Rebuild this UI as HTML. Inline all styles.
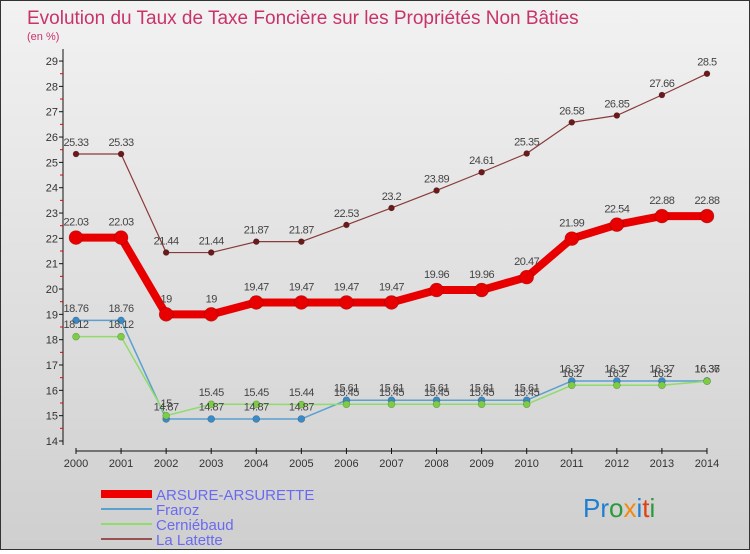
<!DOCTYPE html>
<html><head><meta charset="utf-8"><style>
body{margin:0;width:750px;height:550px;overflow:hidden;font-family:"Liberation Sans",sans-serif}
#wrap{position:relative;width:748px;height:548px;border:1px solid #333;background:linear-gradient(#f2f2f2,#cfcfcf)}
</style></head><body>
<div id="wrap">
<svg id="chart" width="748" height="548" xmlns="http://www.w3.org/2000/svg">
<text x="26" y="23" font-size="19" fill="#c8336a">Evolution du Taux de Taxe Foncière sur les Propriétés Non Bâties</text>
<text x="26" y="39" font-size="11" fill="#c8336a">(en %)</text>
<g id="axes"></g><g id="series"></g><g id="labels"></g>
<g>
<line x1="100" y1="493" x2="151" y2="493" stroke="#e00" stroke-width="8"/>
<text x="155" y="499" font-size="15" fill="#6a6af0">ARSURE-ARSURETTE</text>
<line x1="100" y1="508" x2="151" y2="508" stroke="#5aa0d0" stroke-width="2"/>
<text x="155" y="514" font-size="15" fill="#6a6af0">Fraroz</text>
<line x1="100" y1="523" x2="151" y2="523" stroke="#8fdc6a" stroke-width="2"/>
<text x="155" y="529" font-size="15" fill="#6a6af0">Cerniébaud</text>
<line x1="100" y1="538" x2="151" y2="538" stroke="#9a5050" stroke-width="2"/>
<text x="155" y="544" font-size="15" fill="#6a6af0">La Latette</text>
</g>
<g font-size="26" font-family="Liberation Sans,sans-serif">
<text x="582" y="516"><tspan fill="#1e7fd0">Pr</tspan><tspan fill="#2a9a3a">o</tspan><tspan fill="#f08a10">x</tspan><tspan fill="#1e7fd0">i</tspan><tspan fill="#e04010">t</tspan><tspan fill="#2a9a3a">i</tspan></text>
</g>
</svg></div>
<script>
const years=[2000,2001,2002,2003,2004,2005,2006,2007,2008,2009,2010,2011,2012,2013,2014];
const arsure=[22.03,22.03,19,19,19.47,19.47,19.47,19.47,19.96,19.96,20.47,21.99,22.54,22.88,22.88];
const fraroz=[18.76,18.76,14.87,14.87,14.87,14.87,15.61,15.61,15.61,15.61,15.61,16.37,16.37,16.37,16.37];
const cerniebaud=[18.12,18.12,15,15.45,15.45,15.44,15.45,15.45,15.45,15.45,15.45,16.2,16.2,16.2,16.36];
const latette=[25.33,25.33,21.44,21.44,21.87,21.87,22.53,23.2,23.89,24.61,25.35,26.58,26.85,27.66,28.5];
const yTicks=[14,15,16,17,18,19,20,21,22,23,24,25,26,27,28,29];
const NS="http://www.w3.org/2000/svg";
const xS=i=>75+i*45.07;
const yS=v=>440-(v-14)*25.33;
function mk(t,a,p){const e=document.createElementNS(NS,t);for(const k in a)e.setAttribute(k,a[k]);p.appendChild(e);return e;}
const ax=document.getElementById('axes'),sg=document.getElementById('series'),lg=document.getElementById('labels');
let l=mk('line',{x1:62,y1:48,x2:62,y2:444,stroke:'#111','stroke-width':1},ax);


l=mk('line',{x1:75,y1:450,x2:xS(14),y2:450,stroke:'#111','stroke-width':1},ax);


yTicks.forEach(v=>{
 mk('line',{x1:58,y1:yS(v),x2:62,y2:yS(v),stroke:'#111'},ax);
 if(v<29)mk('line',{x1:59,y1:yS(v+0.5),x2:62,y2:yS(v+0.5),stroke:'#e00'},ax);
 const t=mk('text',{x:57,y:yS(v)+4,'font-size':11,fill:'#333','text-anchor':'end'},ax);t.textContent=v;
 
 
});
years.forEach((y,i)=>{
 mk('line',{x1:xS(i),y1:447,x2:xS(i),y2:453,stroke:'#111'},ax);
 const t=mk('text',{x:xS(i),y:466,'font-size':11,fill:'#333','text-anchor':'middle'},ax);t.textContent=y;
 
 
});
function series(vals,color,w,r,name,ptColor){
 const p=mk('polyline',{points:vals.map((v,i)=>xS(i)+','+yS(v)).join(' '),fill:'none',stroke:color,'stroke-width':w,'stroke-linejoin':'round'},sg);
 
 
 vals.forEach((v,i)=>{
  const c=mk('circle',{cx:xS(i),cy:yS(v),r:r,fill:ptColor,stroke:'rgba(0,0,0,0.25)','stroke-width':0.6},sg);
  
  
  const t=mk('text',{x:xS(i),y:yS(v)-(r+5),'font-size':11,fill:'#444','text-anchor':'middle','letter-spacing':'-0.5'},lg);
  t.textContent=v;
  
  
 });
}
series(latette,'#8a3a3a',1.2,3,'la-latette','#6a1a1a');
series(fraroz,'#5aa0d0',1.5,3.5,'fraroz','#3a8ac8');
series(cerniebaud,'#8fdc6a',1.5,3.5,'cerniebaud','#7ccc44');
series(arsure,'#e80000',8,7,'arsure-arsurette','#e80000');
</script>
</body></html>
